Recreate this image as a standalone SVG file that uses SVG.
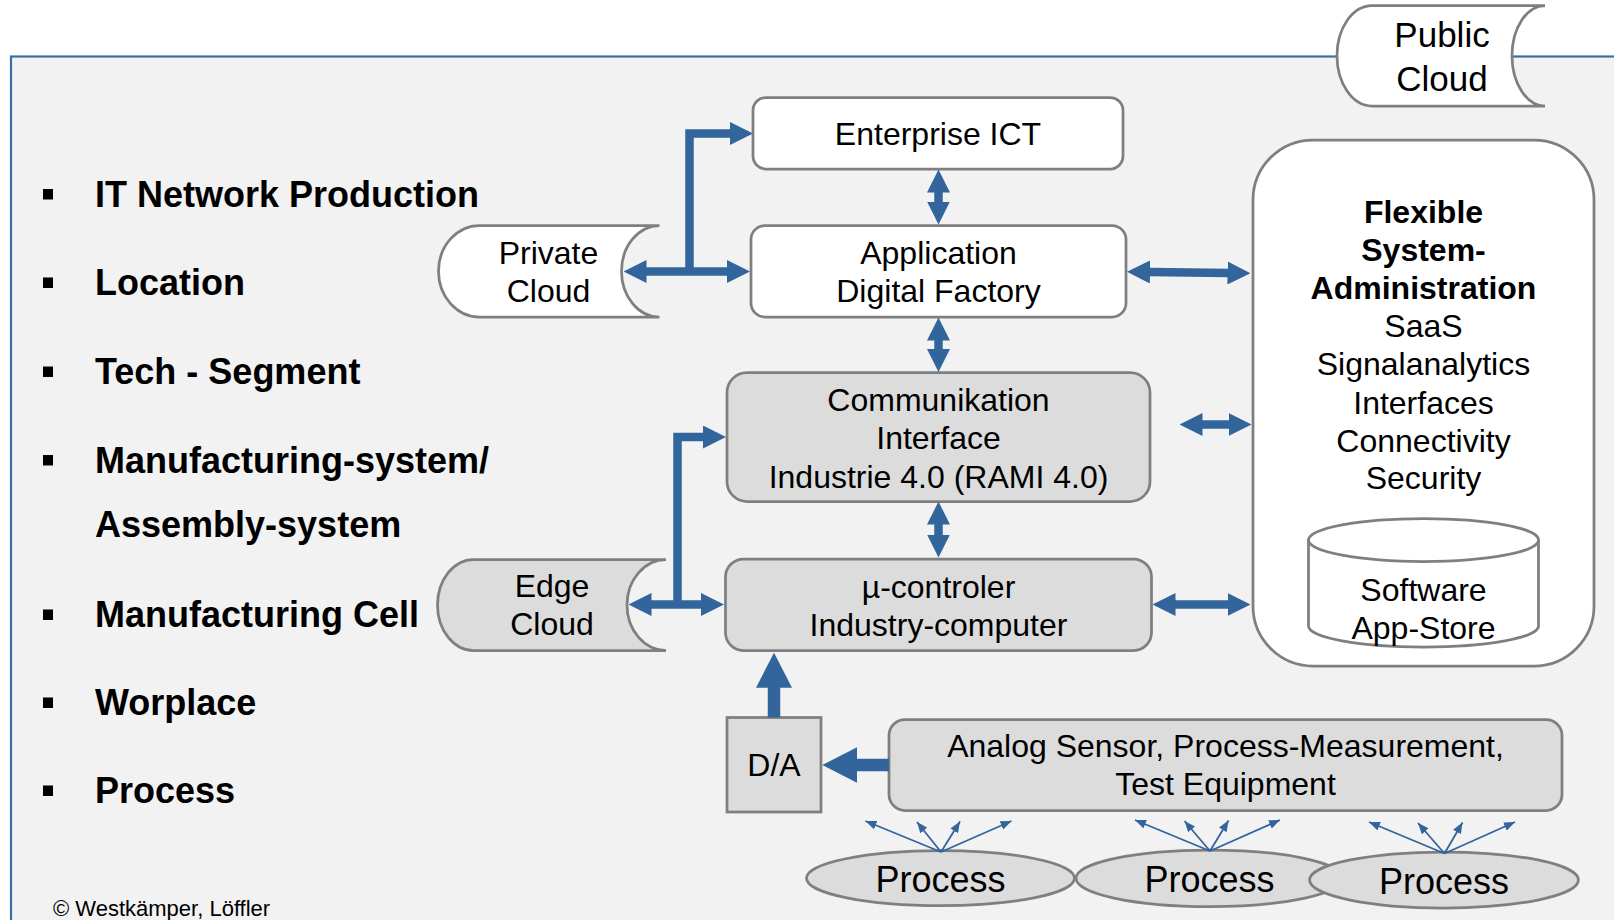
<svg xmlns="http://www.w3.org/2000/svg" width="1614" height="920" viewBox="0 0 1614 920">
<defs>
<style>
.box{stroke:#7f7f7f;stroke-width:2.75}
.w{fill:#ffffff}
.g{fill:#dcdcdc}
.t{font-family:"Liberation Sans",Arial,sans-serif;font-size:32px;fill:#000;text-anchor:middle}
.b{font-weight:bold}
.lst{font-family:"Liberation Sans",Arial,sans-serif;font-size:36px;font-weight:bold;fill:#000}
.c{fill:none;stroke:#31659b;stroke-width:8.5}
.big{fill:none;stroke:#31659b;stroke-width:12.5}
.fan{fill:none;stroke:#31659b;stroke-width:1.8}
</style>
<marker id="ah" viewBox="0 0 23 23" markerWidth="23" markerHeight="23" refX="1" refY="11.5" orient="auto-start-reverse" markerUnits="userSpaceOnUse"><path d="M0,0L23,11.5L0,23Z" fill="#31659b"/></marker>
<marker id="bh" viewBox="0 0 35 36" markerWidth="35" markerHeight="36" refX="1" refY="18" orient="auto" markerUnits="userSpaceOnUse"><path d="M0,0L35,18L0,36Z" fill="#31659b"/></marker>
<marker id="sh" viewBox="0 0 11 9" markerWidth="11" markerHeight="9" refX="11" refY="4.5" orient="auto" markerUnits="userSpaceOnUse"><path d="M0,0L11,4.5L0,9Z" fill="#31659b"/></marker>
</defs>
<rect x="0" y="0" width="1614" height="920" fill="#ffffff"/>
<rect id="frame" x="11" y="56.5" width="1640" height="900" fill="#f2f2f2" stroke="#3c6ea6" stroke-width="2.2"/>

<g id="list">
<rect x="43" y="189" width="10" height="10.5" fill="#000"/>
<text class="lst" x="95" y="206.5">IT Network Production</text>
<rect x="43" y="277.5" width="10" height="10.5" fill="#000"/>
<text class="lst" x="95" y="295">Location</text>
<rect x="43" y="366.5" width="10" height="10.5" fill="#000"/>
<text class="lst" x="95" y="384">Tech - Segment</text>
<rect x="43" y="455" width="10" height="10.5" fill="#000"/>
<text class="lst" x="95" y="472.5">Manufacturing-system/</text>
<text class="lst" x="95" y="537">Assembly-system</text>
<rect x="43" y="609.5" width="10" height="10.5" fill="#000"/>
<text class="lst" x="95" y="627">Manufacturing Cell</text>
<rect x="43" y="697.5" width="10" height="10.5" fill="#000"/>
<text class="lst" x="95" y="715">Worplace</text>
<rect x="43" y="785.5" width="10" height="10.5" fill="#000"/>
<text class="lst" x="95" y="803">Process</text>
<text x="53" y="916" font-family="'Liberation Sans',Arial,sans-serif" font-size="22" fill="#000">© Westkämper, Löffler</text>
</g>

<g id="public-cloud">
<path class="box w" d="M1545,5.5H1372A35,50.25 0 0 0 1372,106H1545A33,50.25 0 0 1 1545,5.5Z"/>
<text class="t" x="1442" y="46.5" style="font-size:35px">Public</text>
<text class="t" x="1442" y="90.5" style="font-size:35px">Cloud</text>
</g>

<g id="enterprise-ict">
<rect class="box w" x="753" y="97.5" width="370" height="71.5" rx="13"/>
<text class="t" x="938" y="144.5">Enterprise ICT</text>
</g>

<g id="application">
<rect class="box w" x="751" y="225.5" width="375" height="91.5" rx="14"/>
<text class="t" x="938.5" y="264">Application</text>
<text class="t" x="938.5" y="301.5">Digital Factory</text>
</g>

<g id="private-cloud">
<path class="box w" d="M659.5,225.5H479.5A41,45.75 0 0 0 479.5,317H659.5A38,45.75 0 0 1 659.5,225.5Z"/>
<text class="t" x="548.5" y="264">Private</text>
<text class="t" x="548.5" y="301.5">Cloud</text>
</g>

<g id="communikation">
<rect class="box g" x="727" y="372.5" width="423" height="129" rx="20"/>
<text class="t" x="938.5" y="410.5">Communikation</text>
<text class="t" x="938.5" y="448.5">Interface</text>
<text class="t" x="938.5" y="487.5">Industrie 4.0 (RAMI 4.0)</text>
</g>

<g id="controller">
<rect class="box g" x="725.5" y="559" width="426" height="91.5" rx="18"/>
<text class="t" x="938.5" y="597.5">µ-controler</text>
<text class="t" x="938.5" y="635.5">Industry-computer</text>
</g>

<g id="edge-cloud">
<path class="box g" d="M666,559.5H473.5A36,45.5 0 0 0 473.5,650.5H666A39,45.5 0 0 1 666,559.5Z"/>
<text class="t" x="552" y="597">Edge</text>
<text class="t" x="552" y="634.5">Cloud</text>
</g>

<g id="flexible">
<rect class="box w" x="1253" y="140" width="341" height="526" rx="60"/>
<text class="t b" x="1423.5" y="222.5">Flexible</text>
<text class="t b" x="1423.5" y="261">System-</text>
<text class="t b" x="1423.5" y="299">Administration</text>
<text class="t" x="1423.5" y="337">SaaS</text>
<text class="t" x="1423.5" y="375">Signalanalytics</text>
<text class="t" x="1423.5" y="413.5">Interfaces</text>
<text class="t" x="1423.5" y="451.5">Connectivity</text>
<text class="t" x="1423.5" y="489">Security</text>
</g>

<g id="app-store">
<path class="box w" d="M1308.5,540V626A115,21 0 0 0 1538.5,626V540"/>
<ellipse class="box w" cx="1423.5" cy="540" rx="115" ry="21.5"/>
<text class="t" x="1423.5" y="601">Software</text>
<text class="t" x="1423.5" y="638.5">App-Store</text>
</g>

<g id="da">
<rect class="box g" x="727" y="717.5" width="94" height="94.5"/>
<text class="t" x="774" y="776">D/A</text>
</g>

<g id="analog">
<rect class="box g" x="889" y="719.5" width="673" height="91" rx="16"/>
<text class="t" x="1225.5" y="757">Analog Sensor, Process-Measurement,</text>
<text class="t" x="1225.5" y="795">Test Equipment</text>
</g>

<g id="process-1">
<ellipse class="box g" cx="940.5" cy="878.2" rx="134" ry="27.5"/>
<text class="t" x="940.5" y="892" style="font-size:36px">Process</text>
</g>
<g id="process-2">
<ellipse class="box g" cx="1209.5" cy="878.3" rx="133.5" ry="28.3"/>
<text class="t" x="1209.5" y="892" style="font-size:36px">Process</text>
</g>
<g id="process-3">
<ellipse class="box g" cx="1444" cy="880" rx="134.4" ry="28"/>
<text class="t" x="1444" y="894" style="font-size:36px">Process</text>
</g>

<g id="connectors">
<line class="c" x1="938.5" y1="191.5" x2="938.5" y2="202.5" marker-start="url(#ah)" marker-end="url(#ah)"/>
<line class="c" x1="938.5" y1="339.5" x2="938.5" y2="350" marker-start="url(#ah)" marker-end="url(#ah)"/>
<line class="c" x1="938.5" y1="523.5" x2="938.5" y2="535.5" marker-start="url(#ah)" marker-end="url(#ah)"/>
<line class="c" x1="1149" y1="272" x2="1228.5" y2="273" marker-start="url(#ah)" marker-end="url(#ah)"/>
<line class="c" x1="1201.5" y1="424.5" x2="1229.5" y2="424.5" marker-start="url(#ah)" marker-end="url(#ah)"/>
<line class="c" x1="1174.5" y1="604.5" x2="1228.5" y2="604.5" marker-start="url(#ah)" marker-end="url(#ah)"/>
<line class="c" x1="645.5" y1="271.5" x2="728" y2="271.5" marker-start="url(#ah)" marker-end="url(#ah)"/>
<path class="c" d="M689.5,271.5V133.5H731" marker-end="url(#ah)"/>
<line class="c" x1="650.5" y1="604.5" x2="702" y2="604.5" marker-start="url(#ah)" marker-end="url(#ah)"/>
<path class="c" d="M677.5,604.5V437H704" marker-end="url(#ah)"/>
<line class="big" x1="774" y1="717.5" x2="774" y2="686.7" marker-end="url(#bh)"/>
<line class="big" x1="889" y1="765" x2="856.3" y2="765" marker-end="url(#bh)"/>
<g class="fan">
<line x1="941" y1="852" x2="865.5" y2="821" marker-end="url(#sh)"/>
<line x1="941" y1="852" x2="917" y2="822" marker-end="url(#sh)"/>
<line x1="941" y1="852" x2="960" y2="821.5" marker-end="url(#sh)"/>
<line x1="941" y1="852" x2="1011.5" y2="821" marker-end="url(#sh)"/>
<line x1="1210" y1="851" x2="1135" y2="820" marker-end="url(#sh)"/>
<line x1="1210" y1="851" x2="1184.5" y2="821" marker-end="url(#sh)"/>
<line x1="1210" y1="851" x2="1228.5" y2="820.5" marker-end="url(#sh)"/>
<line x1="1210" y1="851" x2="1280" y2="820" marker-end="url(#sh)"/>
<line x1="1444.5" y1="853.5" x2="1369" y2="822" marker-end="url(#sh)"/>
<line x1="1444.5" y1="853.5" x2="1418" y2="823" marker-end="url(#sh)"/>
<line x1="1444.5" y1="853.5" x2="1462.5" y2="822.5" marker-end="url(#sh)"/>
<line x1="1444.5" y1="853.5" x2="1515" y2="822" marker-end="url(#sh)"/>
</g>
</g>
</svg>
